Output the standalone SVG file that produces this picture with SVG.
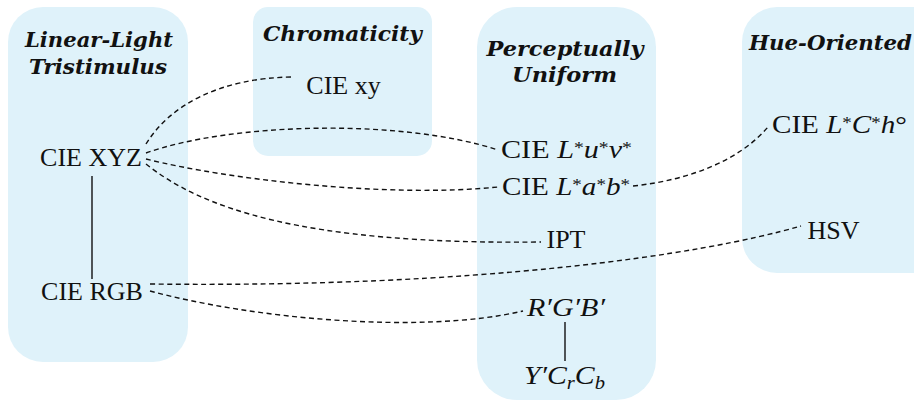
<svg xmlns="http://www.w3.org/2000/svg" width="914" height="400" viewBox="0 0 914 400">
<style>
.box{fill:#dff2fa;stroke:none}
.ttl{font-weight:bold;font-style:italic;font-size:20px;fill:#111;text-anchor:middle}
.lbl{font-size:26px;fill:#111;text-anchor:middle}
.m{font-style:italic}
.sup{font-size:17px;baseline-shift:5px}
.sub{font-size:18px;font-style:italic;baseline-shift:-5px}
.dash{fill:none;stroke:#111;stroke-width:1.4;stroke-dasharray:5 3.5}
.solid{fill:none;stroke:#111;stroke-width:1.4}
</style>
<g id="group-linear">
<rect class="box" x="8" y="7" width="180" height="355" rx="35"/>
<text class="ttl" font-family="DejaVu Serif" x="99" y="47" textLength="148" lengthAdjust="spacingAndGlyphs">Linear-Light</text>
<text class="ttl" font-family="DejaVu Serif" x="98" y="74" textLength="138" lengthAdjust="spacingAndGlyphs">Tristimulus</text>
</g>
<g id="group-chroma">
<rect class="box" x="253" y="7" width="179" height="149" rx="15"/>
<text class="ttl" font-family="DejaVu Serif" x="342.5" y="41" textLength="159" lengthAdjust="spacingAndGlyphs">Chromaticity</text>
</g>
<g id="group-perceptual">
<rect class="box" x="477" y="7" width="179" height="393" rx="40"/>
<text class="ttl" font-family="DejaVu Serif" x="565" y="56" textLength="157" lengthAdjust="spacingAndGlyphs">Perceptually</text>
<text class="ttl" font-family="DejaVu Serif" x="564.5" y="82" textLength="105" lengthAdjust="spacingAndGlyphs">Uniform</text>
</g>
<g id="group-hue">
<rect class="box" x="742" y="7" width="210" height="266" rx="35"/>
<text class="ttl" font-family="DejaVu Serif" x="830.5" y="50" textLength="163" lengthAdjust="spacingAndGlyphs">Hue-Oriented</text>
</g>
<g id="connectors">
<line class="solid" x1="92" y1="176" x2="92" y2="279"/>
<line class="solid" x1="565" y1="322" x2="565" y2="361"/>
<path class="dash" d="M146,144 C170,105 220,78 292,77"/>
<path class="dash" d="M146,153 C230,123 400,118 498,150"/>
<path class="dash" d="M146,159 C230,180 390,198 498,187"/>
<path class="dash" d="M146,164 C200,207 300,245 541,242"/>
<path class="dash" d="M633,186 C690,180 740,160 768,127"/>
<path class="dash" d="M150,284 C480,288 700,255 801,226"/>
<path class="dash" d="M150,291 C250,318 420,335 523,311"/>
</g>
<g font-family="Liberation Serif">
<g id="node-cie-xy"><text class="lbl" x="343.5" y="94">CIE xy</text></g>
<g id="node-cie-xyz"><text class="lbl" x="91" y="165.5">CIE XYZ</text></g>
<g id="node-cie-rgb"><text class="lbl" x="92" y="300">CIE RGB</text></g>
<g id="node-luv"><text class="lbl" x="566.5" y="158" textLength="131" lengthAdjust="spacingAndGlyphs">CIE <tspan class="m">L</tspan><tspan class="sup">*</tspan><tspan class="m">u</tspan><tspan class="sup">*</tspan><tspan class="m">v</tspan><tspan class="sup">*</tspan></text></g>
<g id="node-lab"><text class="lbl" x="566" y="195" textLength="128" lengthAdjust="spacingAndGlyphs">CIE <tspan class="m">L</tspan><tspan class="sup">*</tspan><tspan class="m">a</tspan><tspan class="sup">*</tspan><tspan class="m">b</tspan><tspan class="sup">*</tspan></text></g>
<g id="node-ipt"><text class="lbl" x="566" y="248">IPT</text></g>
<g id="node-rgbprime"><text class="lbl" x="566" y="316" textLength="78" lengthAdjust="spacingAndGlyphs"><tspan class="m">R′G′B′</tspan></text></g>
<g id="node-ycrcb"><text class="lbl" x="564.5" y="384" textLength="81" lengthAdjust="spacingAndGlyphs"><tspan class="m">Y′C</tspan><tspan class="sub">r</tspan><tspan class="m">C</tspan><tspan class="sub">b</tspan></text></g>
<g id="node-lch"><text class="lbl" x="839.5" y="133" textLength="135" lengthAdjust="spacingAndGlyphs">CIE <tspan class="m">L</tspan><tspan class="sup">*</tspan><tspan class="m">C</tspan><tspan class="sup">*</tspan><tspan class="m">h</tspan>°</text></g>
<g id="node-hsv"><text class="lbl" x="833.5" y="239">HSV</text></g>
</g>
</svg>
